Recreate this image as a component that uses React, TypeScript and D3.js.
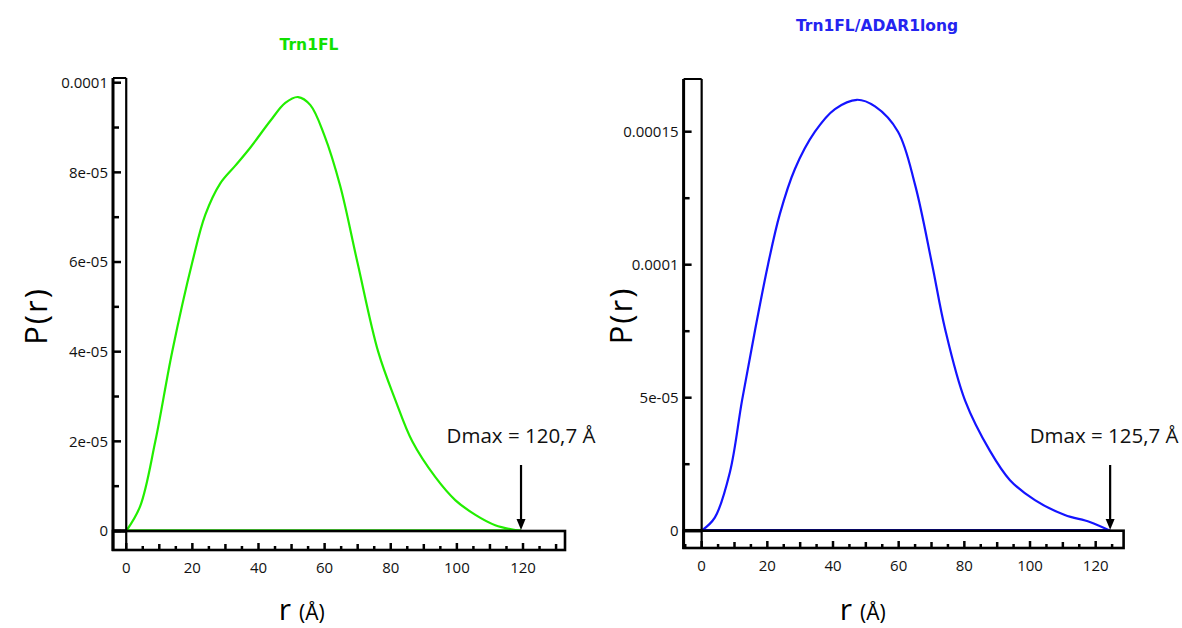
import React from "react";
import * as d3 from "d3";

// ---- data ----
const titleLeft = "Trn1FL";
const titleRight = "Trn1FL/ADAR1long";

const rLeft = [0, 4.2, 8.8, 13.9, 20, 23.9, 28.4, 33, 37.5, 43.6, 48.1, 52, 55.7, 59.9, 64.7, 69.9, 76.2, 81.4, 86.5, 93.5, 99.5, 105.6, 111.6, 119.4];
const pLeft = [0, 5.5e-6, 2.0e-5, 4.0e-5, 6.0e-5, 7.05e-5, 7.75e-5, 8.15e-5, 8.55e-5, 9.15e-5, 9.55e-5, 9.68e-5, 9.5e-5, 8.83e-5, 7.7e-5, 6.0e-5, 4.0e-5, 2.92e-5, 2.0e-5, 1.2e-5, 6.9e-6, 3.6e-6, 1.3e-6, 0];

const rRight = [0, 4, 8.6, 12.3, 16.2, 20.2, 23.8, 28.4, 34.5, 40.6, 47.3, 52.8, 59.8, 65, 70.2, 74.1, 80.2, 87.8, 93.9, 101.5, 110.6, 118.2, 124.4];
const pRight = [0, 4.9e-6, 2.2e-5, 4.9e-5, 7.5e-5, 1.0e-4, 1.19e-4, 1.36e-4, 1.5e-4, 1.585e-4, 1.62e-4, 1.595e-4, 1.5e-4, 1.3e-4, 1.0e-4, 7.6e-5, 4.9e-5, 3.0e-5, 1.9e-5, 1.15e-5, 5.9e-6, 3.3e-6, 0];

const yTicksLeft = [0, 2e-5, 4e-5, 6e-5, 8e-5, 1e-4];
const yTickLabelsLeft = ["0", "2e-05", "4e-05", "6e-05", "8e-05", "0.0001"];
const yTicksRight = [0, 5e-5, 1e-4, 1.5e-4];
const yTickLabelsRight = ["0", "5e-05", "0.0001", "0.00015"];
const xTickValues = [0, 20, 40, 60, 80, 100, 120];

const dmaxLabelLeft = "Dmax = 120,7 Å";
const dmaxLabelRight = "Dmax = 125,7 Å";

type PanelProps = {
  r: number[];
  p: number[];
  color: string;
  titleColor: string;
  title: string;
  titleX: number;
  titleY: number;
  xDomain: [number, number];
  xRange: [number, number];
  yMax: number;
  yRange: [number, number];
  yTop: number;
  yTicks: number[];
  yLabels: string[];
  yMinorStep: number;
  xAxisBottom: number;
  dmaxLabel: string;
  labelShift: number;
  pLabelX: number;
  rLabelX: number;
};

function Panel(props: PanelProps) {
  const {
    r, p, color, titleColor, title, titleX, titleY, xDomain, xRange, yMax, yRange, yTop,
    yTicks, yLabels, yMinorStep, xAxisBottom, dmaxLabel, labelShift, pLabelX, rLabelX,
  } = props;
  const x = d3.scaleLinear().domain(xDomain).range(xRange);
  const y = d3.scaleLinear().domain([0, yMax]).range(yRange);
  const pts = r.map((v, i) => [v, p[i]] as [number, number]);
  const line = d3
    .line<[number, number]>()
    .x((d) => x(d[0]))
    .y((d) => Math.min(y(d[1]), y(0)))
    .curve(d3.curveCatmullRom.alpha(0.5));

  const xL = xRange[0];
  const xR = xRange[1];
  const x0 = x(0);
  const y0 = y(0);
  const rEnd = r[r.length - 1];

  const minorY: number[] = [];
  for (let v = 0; v <= y.invert(yTop) + 1e-12; v += yMinorStep) minorY.push(v);

  const xt: number[] = [];
  for (let v = Math.ceil(xDomain[0] / 5) * 5; v <= xDomain[1]; v += 5) xt.push(v);

  const font = "'Open Sans', 'Liberation Sans', sans-serif";

  return (
    <g>
      <text x={titleX} y={titleY} textAnchor="middle" fill={titleColor}
        fontFamily="'DejaVu Sans', Verdana, sans-serif" fontWeight="bold" fontSize={15.5}>
        {title}
      </text>

      {/* curve */}
      <line x1={x0} x2={x(rEnd)} y1={y0 - 1} y2={y0 - 1} stroke={color} strokeWidth={1.6} />
      <path d={line(pts) || ""} fill="none" stroke={color} strokeWidth={2.2} />

      {/* y axis box */}
      <line x1={xL} x2={xL} y1={yTop} y2={xAxisBottom + 1} stroke="#000" strokeWidth={3} />
      <line x1={x0} x2={x0} y1={yTop} y2={xAxisBottom + 1} stroke="#000" strokeWidth={2.2} />
      <line x1={xL} x2={x0} y1={yTop} y2={yTop} stroke="#000" strokeWidth={2} />
      {minorY.map((v, i) => {
        const major = yTicks.some((t) => Math.abs(t - v) < 1e-12);
        return (
          <line key={"ym" + i} x1={xL} x2={xL + (major ? 8 : 6)} y1={y(v)} y2={y(v)}
            stroke="#000" strokeWidth={2.5} />
        );
      })}
      {yTicks.map((v, i) => (
        <text key={"yl" + i} x={xL - 5} y={y(v)} dy="0.35em" textAnchor="end"
          fontFamily={font} fontSize={15} fill="#111">
          {yLabels[i]}
        </text>
      ))}

      {/* x axis box */}
      <rect x={xL} y={y0} width={xR - xL} height={xAxisBottom - y0} fill="none"
        stroke="#000" strokeWidth={2.6} />
      <line x1={xL} x2={x0} y1={y0} y2={y0} stroke="#000" strokeWidth={3.5} />
      {xt.map((v, i) => {
        const len = v % 20 === 0 ? 7 : v % 10 === 0 ? 6 : 4;
        return (
          <line key={"xt" + i} x1={x(v)} x2={x(v)} y1={xAxisBottom} y2={xAxisBottom - len}
            stroke="#000" strokeWidth={2.5} />
        );
      })}
      {xTickValues.map((v, i) => (
        <text key={"xl" + i} x={x(v)} y={xAxisBottom + 23} textAnchor="middle"
          fontFamily={font} fontSize={15} fill="#111">
          {v}
        </text>
      ))}

      {/* axis titles */}
      <text transform={`translate(${pLabelX},${(yTop + xAxisBottom) / 2 + 2}) rotate(-90)`}
        textAnchor="middle" fontFamily={font} fontSize={31} letterSpacing={2} fill="#000">
        P(r)
      </text>
      <text x={rLabelX - 11} y={620} textAnchor="end" fontFamily={font} fontSize={30} fill="#000">
        r
      </text>
      <text x={rLabelX - 3} y={620} textAnchor="start" fontFamily={font} fontSize={21} fill="#000">
        (Å)
      </text>

      {/* Dmax annotation */}
      <text x={x(rEnd) + labelShift} y={443} textAnchor="middle" fontFamily={font}
        fontSize={20.5} fill="#111">
        {dmaxLabel}
      </text>
      <line x1={x(rEnd)} x2={x(rEnd)} y1={465} y2={522} stroke="#000" strokeWidth={2.2} />
      <path d={`M${x(rEnd) - 4.5},${519} L${x(rEnd) + 4.5},${519} L${x(rEnd)},${y0 - 1} Z`} fill="#000" />
    </g>
  );
}

export default function App() {
  return (
    <svg width={1182} height={628}
      style={{ position: "absolute", left: 0, top: 0, background: "#fff" }}>
      <Panel
        r={rLeft} p={pLeft} color="#22ee00" titleColor="#11e000" title={titleLeft}
        titleX={309} titleY={50}
        xDomain={[-4, 132.7]} xRange={[113, 565]}
        yMax={1e-4} yRange={[531, 82.7]} yTop={78}
        yTicks={yTicksLeft} yLabels={yTickLabelsLeft} yMinorStep={1e-5}
        xAxisBottom={550} dmaxLabel={dmaxLabelLeft} labelShift={0} pLabelX={47}
        rLabelX={302}
      />
      <Panel
        r={rRight} p={pRight} color="#1414ff" titleColor="#2424f0" title={titleRight}
        titleX={877} titleY={31}
        xDomain={[-5.5, 128.5]} xRange={[683.6, 1123.6]}
        yMax={1.5e-4} yRange={[530.7, 131.7]} yTop={79}
        yTicks={yTicksRight} yLabels={yTickLabelsRight} yMinorStep={2.5e-5}
        xAxisBottom={548} dmaxLabel={dmaxLabelRight} labelShift={-6} pLabelX={632}
        rLabelX={863}
      />
    </svg>
  );
}
